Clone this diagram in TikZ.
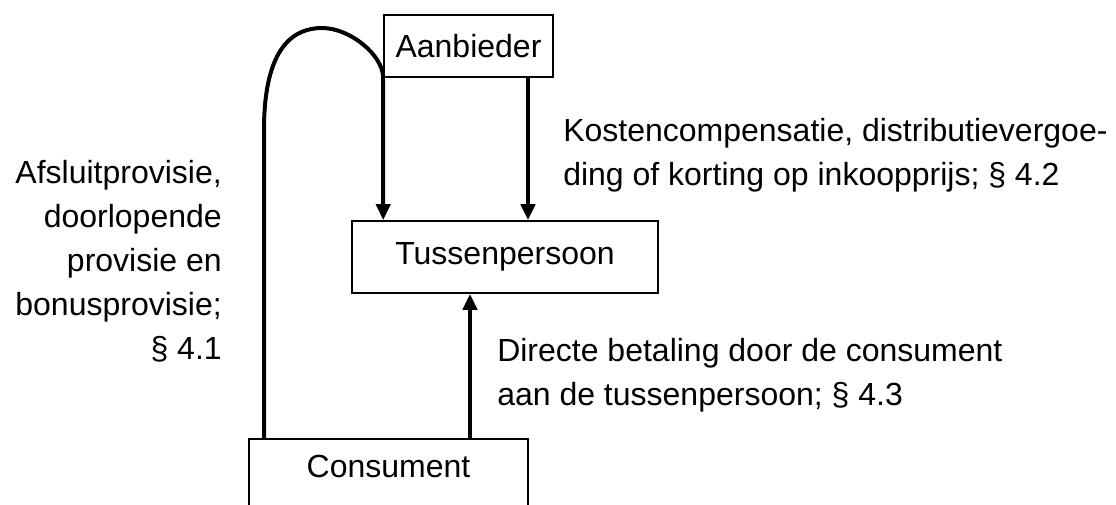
\documentclass[tikz,border=0pt]{standalone}
\usepackage{fontspec}
\setmainfont{Liberation Sans}
\usepackage{tikz}
\usetikzlibrary{calc,arrows.meta}

\tikzset{
  box/.style={draw, line width=1.2pt, inner sep=0pt},
  flow/.style={line width=3pt, -{Triangle[length=12pt,width=10.5pt]}},
  lbl/.style={inner sep=0pt, font=\fontsize{24}{33}\selectfont}
}

\begin{document}
\begin{tikzpicture}[x=0.75pt,y=-0.75pt, font=\fontsize{24}{33}\selectfont]
        \useasboundingbox (0,0) rectangle (1116,504);

        % Boxes
        \node[box, minimum width=126.75pt, minimum height=46.5pt] (aanbieder) at (468.5,46) {Aanbieder};
        \node[box, minimum width=229.5pt, minimum height=54pt] (tussen) at (505,257) {Tussenpersoon};
        \node[box, minimum width=209.25pt, anchor=north, text height=18pt, text depth=50pt, inner ysep=11pt] (consument) at (388.5,438) {Consument};

        % Helper points for the loop
        \coordinate (loopfoot) at (264,438);
        \coordinate (looptop) at (322,28);

        % Loop from consument over the top into tussenpersoon
        \draw[flow] (loopfoot) -- (264,130)
            .. controls (264,45) and (295,28) .. (looptop)
            .. controls (350,28) and (383,55) .. (aanbieder.south west)
            -- (tussen.north -| aanbieder.south west);

        % Direct arrow aanbieder -> tussenpersoon
        \draw[flow] (aanbieder.south -| 528,0) -- (tussen.north -| 528,0);

        % Consument pays tussenpersoon
        \draw[flow] (consument.north -| 470,0) -- (tussen.south -| 470,0);

        % Labels
        \node[lbl, anchor=east, align=right] (provisie) at (222,261) {Afsluitprovisie,\\doorlopende\\provisie en\\bonusprovisie;\\\S\ 4.1};
        \node[lbl, anchor=west, align=left] (kosten) at (563,155) {Kostencompensatie, distributievergoe-\\ding of korting op inkoopprijs; \S\ 4.2};
        \node[lbl, anchor=west, align=left] (betaling) at (497,375) {Directe betaling door de consument\\aan de tussenpersoon; \S\ 4.3};
    \end{tikzpicture}
\end{document}
